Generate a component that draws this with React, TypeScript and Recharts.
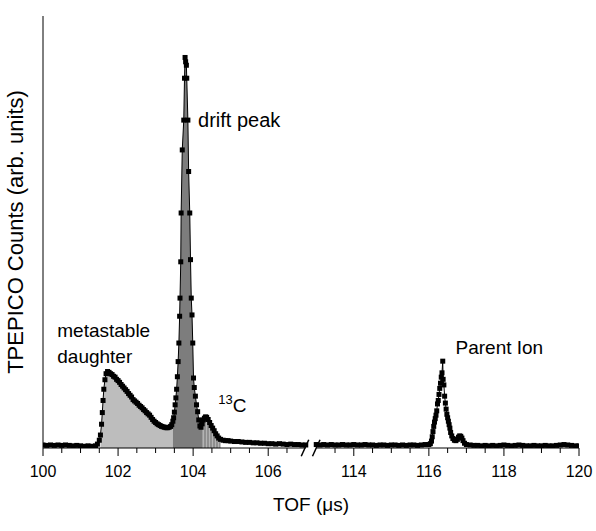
import React from 'react';
import { ComposedChart, Line, Area, XAxis, YAxis, ReferenceLine, ReferenceDot } from 'recharts';

type Pt = [number, number]; // [TOF in µs, counts in arb. units]

// left window, 100–107 µs
const baselineLeft: Pt[] = [
  [100.0, 0.7], [100.1, 0.6], [100.2, 0.7], [100.3, 0.6], [100.4, 0.7], [100.5, 0.6], [100.6, 0.7],
  [100.7, 0.6], [100.8, 0.5], [100.9, 0.6], [101.0, 0.5], [101.1, 0.4], [101.2, 0.5], [101.3, 0.4],
  [101.4, 0.5],
];

const metastable: Pt[] = [
  [101.45, 0.9], [101.5, 1.8], [101.53, 3.0], [101.56, 5.5], [101.58, 8.2], [101.6, 11.0], [101.62, 13.6],
  [101.65, 15.8], [101.68, 17.2], [101.72, 17.7], [101.76, 17.5], [101.8, 17.2], [101.84, 17.0],
  [101.88, 16.6], [101.92, 16.4], [101.96, 15.9], [102.0, 15.6], [102.04, 15.2], [102.08, 14.7],
  [102.12, 14.3], [102.16, 13.9], [102.2, 13.5], [102.24, 13.1], [102.28, 12.6], [102.32, 12.2],
  [102.36, 11.8], [102.4, 11.2], [102.44, 10.9], [102.48, 10.6], [102.52, 10.3], [102.56, 9.9],
  [102.6, 9.6], [102.64, 9.3], [102.68, 8.9], [102.72, 8.6], [102.76, 8.2], [102.8, 7.9], [102.84, 7.6],
  [102.88, 7.1], [102.92, 6.6], [102.96, 6.2], [103.0, 5.9], [103.04, 5.6], [103.08, 5.4], [103.12, 5.2],
  [103.16, 5.0], [103.2, 4.9], [103.24, 4.8], [103.28, 4.7], [103.32, 4.7], [103.36, 4.8], [103.4, 5.0],
  [103.43, 5.4],
];

const driftPeak: Pt[] = [
  [103.46, 6.2], [103.48, 7.0], [103.5, 8.3], [103.52, 10.0], [103.54, 11.6], [103.56, 13.6],
  [103.58, 16.5], [103.6, 20.0], [103.62, 24.3], [103.64, 30.5], [103.65, 34.7], [103.67, 43.1],
  [103.68, 54.4], [103.71, 69.0], [103.75, 75.9], [103.77, 85.6], [103.785, 90.4], [103.8, 89.4],
  [103.82, 88.6], [103.83, 85.6], [103.86, 75.9], [103.88, 64.0], [103.91, 54.4], [103.93, 43.6],
  [103.95, 34.7], [103.97, 30.8], [103.99, 24.3], [104.01, 16.2], [104.03, 14.0], [104.06, 12.0],
  [104.09, 10.0], [104.12, 8.4], [104.15, 6.5], [104.18, 5.1], [104.21, 4.8],
];

const c13Tail: Pt[] = [
  [104.24, 5.6], [104.27, 6.5], [104.3, 6.9], [104.33, 7.2], [104.36, 7.1], [104.4, 6.6], [104.44, 5.9],
  [104.48, 5.2], [104.52, 4.6], [104.56, 4.0], [104.6, 3.3], [104.64, 2.8], [104.68, 2.3], [104.73, 2.0],
  [104.8, 1.8], [104.86, 1.7], [104.93, 1.7], [105.0, 1.6], [105.1, 1.5], [105.2, 1.5], [105.3, 1.4],
  [105.4, 1.3], [105.5, 1.3], [105.6, 1.2], [105.7, 1.2], [105.8, 1.1], [105.9, 1.1], [106.0, 1.0],
  [106.1, 1.0], [106.2, 0.9], [106.3, 1.0], [106.4, 0.9], [106.5, 0.8], [106.6, 0.9], [106.7, 0.8],
  [106.8, 0.8], [106.9, 0.7], [107.0, 0.7],
];

// right window, 113–120 µs
const baselineRight: Pt[] = [
  [113.0, 0.8], [113.1, 0.7], [113.2, 0.8], [113.3, 0.7], [113.4, 0.8], [113.5, 0.7], [113.6, 0.7],
  [113.7, 0.8], [113.8, 0.7], [113.9, 0.7], [114.0, 0.8], [114.1, 0.7], [114.2, 0.7], [114.3, 0.8],
  [114.4, 0.7], [114.5, 0.7], [114.6, 0.6], [114.7, 0.7], [114.8, 0.7], [114.9, 0.6], [115.0, 0.7],
  [115.1, 0.7], [115.2, 0.6], [115.3, 0.7], [115.4, 0.6], [115.5, 0.7], [115.6, 0.7], [115.7, 0.6],
  [115.8, 0.7], [115.9, 0.8],
];

const parentPeak: Pt[] = [
  [116.0, 0.8], [116.04, 1.0], [116.07, 1.6], [116.09, 2.6], [116.11, 3.8], [116.13, 5.0], [116.15, 6.0],
  [116.17, 6.8], [116.19, 7.6], [116.21, 8.6], [116.23, 10.2], [116.25, 11.0], [116.27, 12.4],
  [116.29, 13.8], [116.31, 15.0], [116.33, 16.4], [116.35, 17.4], [116.37, 20.1], [116.38, 15.9],
  [116.4, 14.6], [116.42, 12.0], [116.44, 10.4], [116.46, 9.0], [116.48, 7.8], [116.5, 7.0],
  [116.52, 6.2], [116.54, 5.4], [116.56, 4.6], [116.58, 3.6], [116.61, 2.8], [116.64, 2.2],
  [116.68, 1.8], [116.72, 1.7], [116.76, 2.0], [116.79, 2.5], [116.82, 2.8], [116.85, 2.7],
  [116.88, 2.3], [116.91, 1.7], [116.95, 1.1], [117.0, 0.8],
];

const baselineEnd: Pt[] = [
  [117.1, 0.7], [117.2, 0.6], [117.3, 0.6], [117.4, 0.5], [117.5, 0.6], [117.6, 0.5], [117.7, 0.6],
  [117.8, 0.5], [117.9, 0.6], [118.0, 0.7], [118.1, 0.6], [118.2, 0.5], [118.3, 0.6], [118.4, 0.7],
  [118.5, 0.6], [118.6, 0.5], [118.7, 0.5], [118.8, 0.6], [118.9, 0.5], [119.0, 0.5], [119.1, 0.6],
  [119.2, 0.5], [119.3, 0.5], [119.4, 0.6], [119.5, 0.7], [119.6, 0.8], [119.7, 0.7], [119.8, 0.6],
  [119.9, 0.5], [120.0, 0.5],
];

const majorTicks = [100, 102, 104, 106, 114, 116, 118, 120];
const minorTicks = [
  100.5, 101, 101.5, 102.5, 103, 103.5, 104.5, 105, 105.5, 106.5,
  113.5, 114.5, 115, 115.5, 116.5, 117, 117.5, 118.5, 119, 119.5,
];

// shaded regions under the left-window trace
const fillBands = [
  { from: 101.53, to: 103.46, fill: '#bdbdbd' },
  { from: 103.46, to: 104.24, fill: '#7d7d7d' },
  { from: 104.24, to: 104.73, fill: 'url(#c13Hatch)' },
];

// broken axis: 107–113 µs is cut out and replaced by a small gap
const BREAK_START = 107;
const BREAK_END = 113;
const BREAK_GAP = 0.28;
const toAxis = (tof: number) => (tof <= BREAK_START ? tof : tof - (BREAK_END - BREAK_START) + BREAK_GAP);
const toTof = (t: number) => (t <= BREAK_START + BREAK_GAP / 2 ? t : t + (BREAK_END - BREAK_START) - BREAK_GAP);

const toRows = (pts: Pt[]) => pts.map(([tof, v]) => ({ tof, t: toAxis(tof), v }));

const leftRows = toRows([...baselineLeft, ...metastable, ...driftPeak, ...c13Tail]);
const rightRows = toRows([...baselineRight, ...parentPeak, ...baselineEnd]);

const FONT = '"Liberation Sans", Arial, Helvetica, sans-serif';
const W = 596;
const H = 531;

const Square = (p: any) => {
  if (p.cx == null || p.cy == null) return <g key={p.index} />;
  return <rect key={p.index} x={p.cx - 2.5} y={p.cy - 2.5} width={5} height={5} fill="#000" />;
};

const TofTick = (p: any) => {
  const { x, y, payload } = p;
  const tof = Math.round(toTof(payload.value) * 100) / 100;
  const major = majorTicks.some((m) => Math.abs(m - tof) < 1e-6);
  return (
    <g>
      <line x1={x} y1={y} x2={x} y2={y + (major ? 8 : 5)} stroke="#000" strokeWidth={1} />
      {major && (
        <text x={x} y={y + 29} textAnchor="middle" fontSize={16} fontFamily={FONT} fill="#000">
          {tof}
        </text>
      )}
    </g>
  );
};

const XTitle = ({ viewBox }: any) => (
  <text x={viewBox.x + viewBox.width / 2} y={viewBox.y + 63} textAnchor="middle" fontSize={19} fontFamily={FONT} fill="#000">
    TOF (μs)
  </text>
);

const YTitle = ({ viewBox }: any) => {
  const cx = viewBox.x - 10;
  const cy = viewBox.y + viewBox.height / 2;
  return (
    <text x={cx} y={cy} transform={`rotate(-90 ${cx} ${cy})`} textAnchor="middle" fontSize={22} fontFamily={FONT} fill="#000">
      TPEPICO Counts (arb. units)
    </text>
  );
};

const notes = [
  { tof: 100.38, counts: 25.7, text: 'metastable', size: 19 },
  { tof: 100.38, counts: 19.7, text: 'daughter', size: 19 },
  { tof: 104.13, counts: 74.3, text: 'drift peak', size: 20 },
  { tof: 116.71, counts: 21.8, text: 'Parent Ion', size: 19 },
];

const axisTicks = [...majorTicks, ...minorTicks].map(toAxis).sort((a, b) => a - b);

export default function App() {
  return (
    <div style={{ position: 'absolute', left: 0, top: 0, width: W, height: H, background: '#fff' }}>
      <ComposedChart width={W} height={H} margin={{ top: 16, right: 17, bottom: 43, left: 33 }}>
        <defs>
          <pattern id="c13Hatch" width={3} height={10} patternUnits="userSpaceOnUse">
            <rect width={3} height={10} fill="#b4b4b4" />
            <line x1={1} y1={0} x2={1} y2={10} stroke="#6a6a6a" strokeWidth={1} />
          </pattern>
        </defs>
        <XAxis
          type="number"
          dataKey="t"
          domain={[100, toAxis(120)]}
          allowDataOverflow
          ticks={axisTicks}
          interval={0}
          tick={<TofTick />}
          tickLine={false}
          tickSize={0}
          tickMargin={0}
          axisLine={false}
          height={40}
          label={<XTitle />}
        />
        <YAxis
          type="number"
          domain={[0, 100]}
          allowDataOverflow
          tick={false}
          tickLine={false}
          axisLine={{ stroke: '#000', strokeWidth: 1 }}
          width={10}
          label={<YTitle />}
        />
        {fillBands.map((b, i) => (
          <Area
            key={`band-${i}`}
            data={leftRows.filter((r) => r.tof >= b.from - 1e-9 && r.tof <= b.to + 1e-9)}
            dataKey="v"
            type="linear"
            stroke="none"
            fill={b.fill}
            fillOpacity={1}
            isAnimationActive={false}
            activeDot={false}
          />
        ))}
        <Line data={leftRows} dataKey="v" type="linear" stroke="#000" strokeWidth={1} dot={Square} activeDot={false} isAnimationActive={false} />
        <Line data={rightRows} dataKey="v" type="linear" stroke="#000" strokeWidth={1} dot={Square} activeDot={false} isAnimationActive={false} />
        {/* x axis line, drawn in two pieces around the break */}
        <ReferenceLine segment={[{ x: 100, y: 0 }, { x: BREAK_START, y: 0 }]} stroke="#000" strokeWidth={1} ifOverflow="visible" />
        <ReferenceLine segment={[{ x: toAxis(BREAK_END), y: 0 }, { x: toAxis(120), y: 0 }]} stroke="#000" strokeWidth={1} ifOverflow="visible" />
        {/* break marks */}
        <ReferenceLine segment={[{ x: 106.88, y: -1.9 }, { x: 107.08, y: 1.9 }]} stroke="#000" strokeWidth={1.5} ifOverflow="visible" />
        <ReferenceLine segment={[{ x: 107.18, y: -1.9 }, { x: 107.38, y: 1.9 }]} stroke="#000" strokeWidth={1.5} ifOverflow="visible" />
        {notes.map((n, i) => (
          <ReferenceDot
            key={`note-${i}`}
            x={toAxis(n.tof)}
            y={n.counts}
            r={0}
            ifOverflow="visible"
            shape={(p: any) => (
              <text x={p.cx} y={p.cy} fontSize={n.size} fontFamily={FONT} fill="#000">
                {n.text}
              </text>
            )}
          />
        ))}
        <ReferenceDot
          x={toAxis(104.67)}
          y={8.3}
          r={0}
          ifOverflow="visible"
          shape={(p: any) => (
            <text x={p.cx} y={p.cy} fontSize={19} fontFamily={FONT} fill="#000">
              <tspan fontSize={13} dy={-8}>13</tspan>
              <tspan dy={8}>C</tspan>
            </text>
          )}
        />
      </ComposedChart>
    </div>
  );
}
